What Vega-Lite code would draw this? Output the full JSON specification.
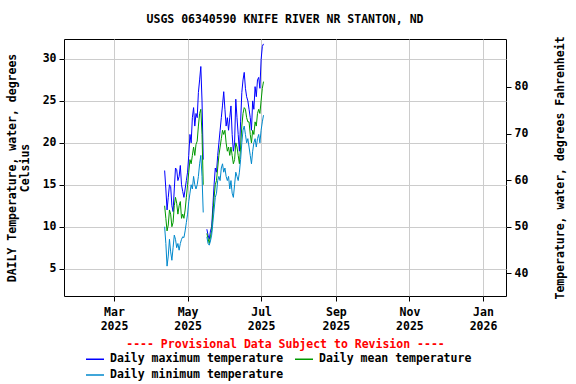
{
  "$schema": "https://vega.github.io/schema/vega-lite/v6.json",
  "width": 442,
  "height": 257,
  "autosize": "none",
  "padding": {"left": 64, "top": 39, "right": 70, "bottom": 88},
  "background": "white",
  "title": {"text": "USGS 06340590 KNIFE RIVER NR STANTON, ND", "font": "DejaVu Sans Mono", "fontSize": 11.5, "fontWeight": "bold", "anchor": "middle", "offset": 10, "color": "black"},
  "config": {
    "view": {"stroke": "black", "strokeWidth": 1},
    "axis": {"labelFont": "DejaVu Sans Mono", "labelFontWeight": "bold", "labelFontSize": 11.5, "labelColor": "black", "titleFont": "DejaVu Sans Mono", "titleFontWeight": "bold", "titleFontSize": 11.5, "titleColor": "black", "tickColor": "black", "tickSize": 5, "domain": false, "gridColor": "#cccccc", "gridWidth": 1}
  },
  "layer": [
    {
      "data": {"values": [
        {"date": "2025-04-12", "max": 16.7, "mean": 12.5, "min": 10.0},
        {"date": "2025-04-13", "max": 14.5, "mean": 11.0, "min": 8.0},
        {"date": "2025-04-14", "max": 12.0, "mean": 9.5, "min": 5.3},
        {"date": "2025-04-15", "max": 13.5, "mean": 10.2, "min": 6.5},
        {"date": "2025-04-16", "max": 15.0, "mean": 12.0, "min": 8.5},
        {"date": "2025-04-17", "max": 14.8, "mean": 11.5, "min": 7.0},
        {"date": "2025-04-18", "max": 12.5, "mean": 10.0, "min": 6.0},
        {"date": "2025-04-19", "max": 11.8, "mean": 10.5, "min": 7.5},
        {"date": "2025-04-20", "max": 14.5, "mean": 12.5, "min": 9.0},
        {"date": "2025-04-21", "max": 17.0, "mean": 13.5, "min": 8.5},
        {"date": "2025-04-22", "max": 16.8, "mean": 12.8, "min": 7.5},
        {"date": "2025-04-23", "max": 15.5, "mean": 11.5, "min": 8.0},
        {"date": "2025-04-24", "max": 16.0, "mean": 12.5, "min": 7.2},
        {"date": "2025-04-25", "max": 17.3, "mean": 13.0, "min": 8.0},
        {"date": "2025-04-26", "max": 15.0, "mean": 11.0, "min": 8.5},
        {"date": "2025-04-27", "max": 14.2, "mean": 11.5, "min": 8.8},
        {"date": "2025-04-28", "max": 13.5, "mean": 11.0, "min": 8.7},
        {"date": "2025-04-29", "max": 14.5, "mean": 12.0, "min": 9.5},
        {"date": "2025-04-30", "max": 15.5, "mean": 13.5, "min": 10.5},
        {"date": "2025-05-01", "max": 16.5, "mean": 15.0, "min": 11.5},
        {"date": "2025-05-02", "max": 18.5, "mean": 16.5, "min": 13.0},
        {"date": "2025-05-03", "max": 21.0, "mean": 18.0, "min": 14.0},
        {"date": "2025-05-04", "max": 20.0, "mean": 17.5, "min": 15.0},
        {"date": "2025-05-05", "max": 23.0, "mean": 18.5, "min": 14.5},
        {"date": "2025-05-06", "max": 24.2, "mean": 19.5, "min": 16.0},
        {"date": "2025-05-07", "max": 22.0, "mean": 18.5, "min": 15.0},
        {"date": "2025-05-08", "max": 23.5, "mean": 19.8, "min": 14.5},
        {"date": "2025-05-09", "max": 23.0, "mean": 20.2, "min": 15.0},
        {"date": "2025-05-10", "max": 26.0, "mean": 22.0, "min": 16.0},
        {"date": "2025-05-11", "max": 27.5, "mean": 23.5, "min": 17.5},
        {"date": "2025-05-12", "max": 29.1, "mean": 24.0, "min": 18.5},
        {"date": "2025-05-13", "max": 25.0, "mean": 21.0, "min": 16.0},
        {"date": "2025-05-14", "max": 18.0, "mean": 15.0, "min": 11.7},
        {"date": "2025-05-15", "max": null, "mean": null, "min": null},
        {"date": "2025-05-16", "max": null, "mean": null, "min": null},
        {"date": "2025-05-17", "max": 9.7, "mean": 9.2, "min": 8.8},
        {"date": "2025-05-18", "max": 9.0, "mean": 8.6, "min": 8.0},
        {"date": "2025-05-19", "max": 8.5, "mean": 8.0, "min": 7.8},
        {"date": "2025-05-20", "max": 9.5, "mean": 8.8, "min": 8.3},
        {"date": "2025-05-21", "max": 10.0, "mean": 9.5, "min": 9.0},
        {"date": "2025-05-22", "max": 12.5, "mean": 11.5, "min": 10.5},
        {"date": "2025-05-23", "max": 15.0, "mean": 13.5, "min": 12.0},
        {"date": "2025-05-24", "max": 17.0, "mean": 15.0, "min": 13.5},
        {"date": "2025-05-25", "max": 16.5, "mean": 15.5, "min": 14.0},
        {"date": "2025-05-26", "max": 18.5, "mean": 17.0, "min": 15.5},
        {"date": "2025-05-27", "max": 20.0, "mean": 18.5, "min": 16.0},
        {"date": "2025-05-28", "max": 21.5, "mean": 19.5, "min": 15.5},
        {"date": "2025-05-29", "max": 23.0, "mean": 20.5, "min": 17.0},
        {"date": "2025-05-30", "max": 24.5, "mean": 21.5, "min": 17.5},
        {"date": "2025-05-31", "max": 26.1, "mean": 21.0, "min": 16.5},
        {"date": "2025-06-01", "max": 24.0, "mean": 21.5, "min": 17.0},
        {"date": "2025-06-02", "max": 22.0, "mean": 20.0, "min": 16.0},
        {"date": "2025-06-03", "max": 23.0, "mean": 19.0, "min": 15.5},
        {"date": "2025-06-04", "max": 21.5, "mean": 19.5, "min": 16.0},
        {"date": "2025-06-05", "max": 23.0, "mean": 18.5, "min": 14.5},
        {"date": "2025-06-06", "max": 24.4, "mean": 19.5, "min": 15.5},
        {"date": "2025-06-07", "max": 21.0, "mean": 18.5, "min": 14.0},
        {"date": "2025-06-08", "max": 19.0, "mean": 17.5, "min": 13.5},
        {"date": "2025-06-09", "max": 20.0, "mean": 18.0, "min": 15.0},
        {"date": "2025-06-10", "max": 25.2, "mean": 20.0, "min": 16.5},
        {"date": "2025-06-11", "max": 23.0, "mean": 19.5, "min": 16.0},
        {"date": "2025-06-12", "max": 21.0, "mean": 18.5, "min": 15.5},
        {"date": "2025-06-13", "max": 19.0, "mean": 17.5, "min": 16.5},
        {"date": "2025-06-14", "max": 22.5, "mean": 19.5, "min": 18.0},
        {"date": "2025-06-15", "max": 26.0, "mean": 22.0, "min": 20.0},
        {"date": "2025-06-16", "max": 27.5, "mean": 23.5, "min": 21.5},
        {"date": "2025-06-17", "max": 28.4, "mean": 24.2, "min": 22.0},
        {"date": "2025-06-18", "max": 26.5, "mean": 24.0, "min": 21.0},
        {"date": "2025-06-19", "max": 25.5, "mean": 23.0, "min": 20.0},
        {"date": "2025-06-20", "max": 25.0, "mean": 22.5, "min": 20.5},
        {"date": "2025-06-21", "max": 24.0, "mean": 22.5, "min": 19.5},
        {"date": "2025-06-22", "max": 23.0, "mean": 21.0, "min": 18.5},
        {"date": "2025-06-23", "max": 21.5, "mean": 20.0, "min": 17.5},
        {"date": "2025-06-24", "max": 25.0, "mean": 21.5, "min": 19.0},
        {"date": "2025-06-25", "max": 24.0, "mean": 21.0, "min": 20.0},
        {"date": "2025-06-26", "max": 26.7, "mean": 22.5, "min": 20.5},
        {"date": "2025-06-27", "max": 25.5, "mean": 22.0, "min": 19.5},
        {"date": "2025-06-28", "max": 27.5, "mean": 23.5, "min": 20.5},
        {"date": "2025-06-29", "max": 27.8, "mean": 24.0, "min": 21.0},
        {"date": "2025-06-30", "max": 26.5, "mean": 23.5, "min": 20.0},
        {"date": "2025-07-01", "max": 29.9, "mean": 25.0, "min": 21.5},
        {"date": "2025-07-02", "max": 31.5, "mean": 26.5, "min": 22.5},
        {"date": "2025-07-03", "max": 31.8, "mean": 27.3, "min": 23.3}
      ]},
      "transform": [{"fold": ["max", "mean", "min"], "as": ["stat", "temp"]}],
      "mark": {"type": "line", "strokeWidth": 1, "invalid": "break-paths-filter-domains", "clip": true},
      "encoding": {
        "x": {
          "field": "date", "type": "temporal",
          "scale": {"type": "utc", "domain": [{"year": 2025, "month": 1, "date": 18, "hours": 13, "utc": true}, {"year": 2026, "month": 1, "date": 20, "hours": 2, "utc": true}]},
          "axis": {
            "values": [
              {"year": 2025, "month": 3, "date": 1, "utc": true},
              {"year": 2025, "month": 5, "date": 1, "utc": true},
              {"year": 2025, "month": 7, "date": 1, "utc": true},
              {"year": 2025, "month": 9, "date": 1, "utc": true},
              {"year": 2025, "month": 11, "date": 1, "utc": true},
              {"year": 2026, "month": 1, "date": 1, "utc": true}
            ],
            "labelExpr": "[utcFormat(datum.value, '%b'), utcFormat(datum.value, '%Y')]",
            "labelLineHeight": 14,
            "labelPadding": 5,
            "grid": true,
            "title": "---- Provisional Data Subject to Revision ----",
            "titleColor": "#ff0000",
            "titlePadding": 7
          }
        },
        "y": {
          "field": "temp", "type": "quantitative",
          "scale": {"domain": [1.74, 32.38], "nice": false, "zero": false},
          "axis": {
            "values": [5, 10, 15, 20, 25, 30],
            "grid": true,
            "labelPadding": 3,
            "title": ["DAILY Temperature, water, degrees", "Celsius"],
            "titleLineHeight": 13,
            "titlePadding": 12
          }
        },
        "color": {
          "field": "stat", "type": "nominal",
          "scale": {"domain": ["max", "min", "mean"], "range": ["#0000ff", "#0088cc", "#009900"]},
          "legend": {
            "orient": "none", "legendX": 21, "legendY": 310,
            "columns": 2, "title": null,
            "symbolType": "stroke", "symbolSize": 324, "symbolStrokeWidth": 1.5,
            "labelFont": "DejaVu Sans Mono", "labelFontWeight": "bold", "labelFontSize": 11.5, "labelColor": "black",
            "labelLimit": 400, "labelOffset": 5, "columnPadding": 8, "rowPadding": -2,
            "labelExpr": "datum.label == 'max' ? 'Daily maximum temperature' : datum.label == 'mean' ? 'Daily mean temperature' : 'Daily minimum temperature'"
          }
        }
      }
    },
    {
      "data": {"values": [{"f": 35.13}, {"f": 90.28}]},
      "mark": {"type": "point", "opacity": 0},
      "encoding": {
        "y": {
          "field": "f", "type": "quantitative",
          "scale": {"domain": [35.13, 90.28], "nice": false, "zero": false},
          "axis": {
            "orient": "right",
            "values": [40, 50, 60, 70, 80],
            "grid": false,
            "labelPadding": 3,
            "title": "Temperature, water, degrees Fahrenheit",
            "titleAngle": 270,
            "titleBaseline": "top",
            "titlePadding": 27
          }
        }
      }
    }
  ],
  "resolve": {"scale": {"y": "independent"}, "axis": {"y": "independent"}}
}
